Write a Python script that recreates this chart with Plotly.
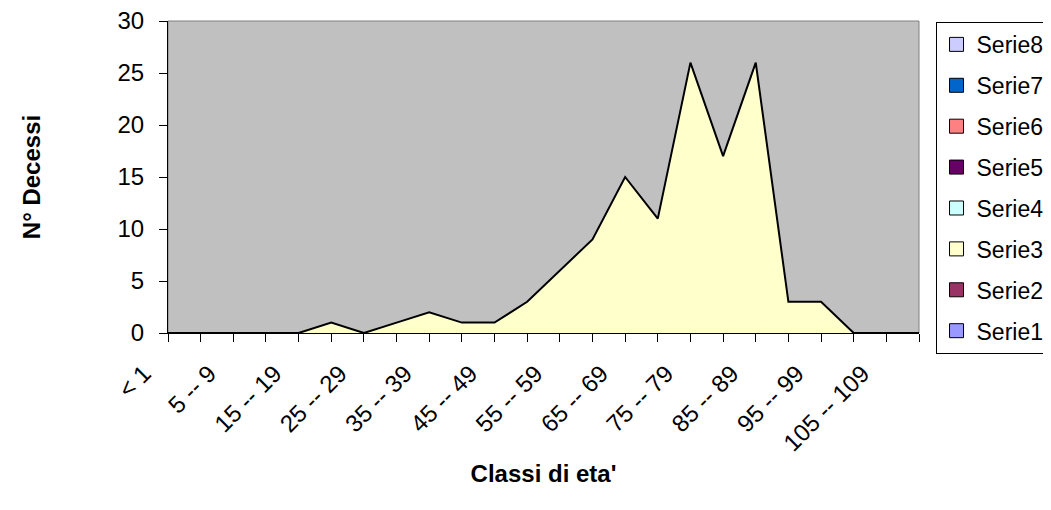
import plotly.graph_objects as go

categories = ["< 1", "1 -- 4", "5 -- 9", "10 -- 14", "15 -- 19", "20 -- 24",
              "25 -- 29", "30 -- 34", "35 -- 39", "40 -- 44", "45 -- 49",
              "50 -- 54", "55 -- 59", "60 -- 64", "65 -- 69", "70 -- 74",
              "75 -- 79", "80 -- 84", "85 -- 89", "90 -- 94", "95 -- 99",
              "100 -- 104", "105 -- 109", "> 109"]
serie3 = [0, 0, 0, 0, 0, 1, 0, 1, 2, 1, 1, 3, 6, 9, 15, 11, 26, 17, 26, 3, 3, 0, 0, 0]

series_names = ["Serie8", "Serie7", "Serie6", "Serie5", "Serie4", "Serie3", "Serie2", "Serie1"]
series_colors = ["#CCCCFF", "#0066CC", "#FF8080", "#660066", "#CCFFFF", "#FFFFCC", "#993366", "#9999FF"]

y_ticks = [0, 5, 10, 15, 20, 25, 30]

FONT = "Liberation Sans, Arial, sans-serif"
idx = list(range(len(categories)))
ticktext = [c if i % 2 == 0 else "" for i, c in enumerate(categories)]

fig = go.Figure()

fig.add_trace(go.Scatter(
    x=idx, y=serie3, mode="lines", fill="tozeroy",
    fillcolor="#FFFFCC", line=dict(color="black", width=2),
    showlegend=False, hoverinfo="x+y", name="Serie3"))

for name, col in zip(series_names, series_colors):
    fig.add_trace(go.Scatter(
        x=[None], y=[None], mode="markers", name=name, legendgroup=name,
        marker=dict(symbol="square", size=14, color=col,
                    line=dict(color="black", width=1))))

fig.add_shape(type="rect", xref="paper", yref="paper", x0=0, x1=1, y0=0, y1=1,
              line=dict(color="#808080", width=1), layer="below")

fig.update_layout(
    width=1051, height=510,
    margin=dict(l=160, r=140, t=13, b=185, autoexpand=False),
    paper_bgcolor="white", plot_bgcolor="#C0C0C0",
    font=dict(family=FONT, size=24, color="black"),
    showlegend=True,
    legend=dict(x=1.022, y=0.997, xanchor="left", yanchor="top",
                traceorder="grouped", tracegroupgap=8, maxheight=480,
                bordercolor="black", borderwidth=1, bgcolor="white",
                font=dict(family=FONT, size=23), itemsizing="trace",
                itemwidth=30),
    xaxis=dict(range=[0, 23], tickvals=idx, ticktext=ticktext, tickangle=-45,
               ticks="outside", ticklen=8, tickcolor="black",
               ticklabelstandoff=8, ticklabelshift=-24, ticklabeloverflow="allow",
               showline=True, linecolor="black", linewidth=1,
               showgrid=False, zeroline=False, automargin=False,
               title=dict(text="<b>Classi di eta'</b>", font=dict(size=24), standoff=10)),
    yaxis=dict(range=[0, 30], tickvals=y_ticks, ticks="outside", ticklen=8,
               tickcolor="black", showline=True, linecolor="black", linewidth=1,
               ticklabelstandoff=10, ticklabeloverflow="allow",
               showgrid=False, zeroline=False, automargin=False,
               title=dict(text="<b>N° Decessi</b>", font=dict(size=24), standoff=70)),
)

fig.write_html("out.html")
